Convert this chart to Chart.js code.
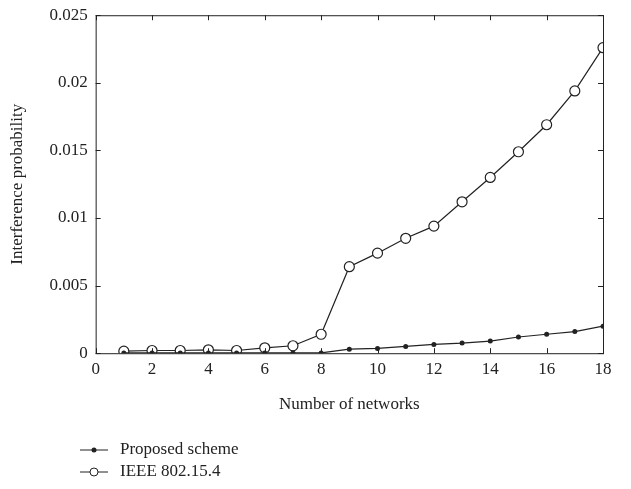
<!DOCTYPE html>
<html>
<head>
<meta charset="utf-8">
<script src="https://cdn.jsdelivr.net/npm/chart.js@4.4.1/dist/chart.umd.min.js"></script>
<style>
  html, body { margin: 0; padding: 0; background: #fff; }
  #wrap { width: 631px; height: 489px; position: relative; }
</style>
</head>
<body>
<div id="wrap"><canvas id="chart" width="631" height="489"></canvas></div>
<script>
// data
const networks = [1, 2, 3, 4, 5, 6, 7, 8, 9, 10, 11, 12, 13, 14, 15, 16, 17, 18];
const proposed = [0.00002, 0.00002, 0.00002, 0.00002, 0.00002, 0.00002, 0.00002, 0.00002,
                  0.0003, 0.00035, 0.0005, 0.00065, 0.00075, 0.0009, 0.0012, 0.0014, 0.0016, 0.002];
const ieee = [0.00015, 0.0002, 0.0002, 0.00025, 0.0002, 0.0004, 0.00055, 0.0014,
              0.0064, 0.0074, 0.0085, 0.0094, 0.0112, 0.013, 0.0149, 0.0169, 0.0194, 0.0226];
const seriesNames = ['Proposed scheme', 'IEEE 802.15.4'];
const xTicks = [0, 2, 4, 6, 8, 10, 12, 14, 16, 18];
const yTicks = [0, 0.005, 0.01, 0.015, 0.02, 0.025];

const FONT = '"Liberation Serif", "DejaVu Serif", serif';
const FS = 17;
const INK = '#222';

// box around the plot with inward ticks on all four sides
const frame = {
  id: 'frame',
  afterDraw(chart) {
    const { ctx, chartArea: a, scales } = chart;
    ctx.save();
    ctx.strokeStyle = INK;
    ctx.lineWidth = 1;
    ctx.strokeRect(a.left + 0.5, a.top + 0.5, a.right - a.left, a.bottom - a.top);
    const t = 5;
    ctx.beginPath();
    xTicks.forEach(v => {
      const x = Math.round(scales.x.getPixelForValue(v)) + 0.5;
      ctx.moveTo(x, a.bottom); ctx.lineTo(x, a.bottom - t);
      ctx.moveTo(x, a.top); ctx.lineTo(x, a.top + t);
    });
    yTicks.forEach(v => {
      const y = Math.round(scales.y.getPixelForValue(v)) + 0.5;
      ctx.moveTo(a.left, y); ctx.lineTo(a.left + t, y);
      ctx.moveTo(a.right, y); ctx.lineTo(a.right - t, y);
    });
    ctx.stroke();

    // legend, stacked under the axis title
    ctx.font = FS + 'px ' + FONT;
    ctx.textBaseline = 'middle';
    chart.data.datasets.forEach((ds, i) => {
      const y = 450 + i * 22;
      ctx.beginPath();
      ctx.moveTo(80, y); ctx.lineTo(108, y);
      ctx.stroke();
      ctx.beginPath();
      if (ds.pointBackgroundColor === '#fff') {
        ctx.fillStyle = '#fff';
        ctx.arc(94, y, 4, 0, Math.PI * 2);
        ctx.fill(); ctx.stroke();
      } else {
        ctx.fillStyle = INK;
        ctx.arc(94, y, 2.5, 0, Math.PI * 2);
        ctx.fill();
      }
      ctx.fillStyle = INK;
      ctx.fillText(ds.label, 120, y);
    });
    ctx.restore();
  }
};

new Chart(document.getElementById('chart'), {
  type: 'line',
  data: {
    datasets: [
      {
        label: seriesNames[0],
        data: networks.map((n, i) => ({ x: n, y: proposed[i] })),
        borderColor: INK, borderWidth: 1.2,
        pointRadius: 2.5, pointBackgroundColor: INK, pointBorderColor: INK, pointBorderWidth: 0,
        tension: 0
      },
      {
        label: seriesNames[1],
        data: networks.map((n, i) => ({ x: n, y: ieee[i] })),
        borderColor: INK, borderWidth: 1.2,
        pointRadius: 5, pointBackgroundColor: '#fff', pointBorderColor: INK, pointBorderWidth: 1.2,
        tension: 0
      }
    ]
  },
  options: {
    responsive: false,
    animation: false,
    layout: { padding: { top: 11, right: 28, bottom: 70, left: 3 } },
    plugins: { legend: { display: false }, tooltip: { enabled: false } },
    scales: {
      x: {
        type: 'linear', min: 0, max: 18,
        grid: { display: false, drawTicks: false }, border: { display: false },
        afterBuildTicks: s => { s.ticks = xTicks.map(v => ({ value: v })); },
        ticks: { color: INK, font: { family: FONT, size: FS }, padding: 6, maxRotation: 0 },
        title: { display: true, text: 'Number of networks', color: INK,
                 font: { family: FONT, size: FS }, padding: { top: 9 } }
      },
      y: {
        min: 0, max: 0.025,
        grid: { display: false, drawTicks: false }, border: { display: false },
        afterBuildTicks: s => { s.ticks = yTicks.map(v => ({ value: v })); },
        ticks: { color: INK, font: { family: FONT, size: FS, lineHeight: 0.85 }, padding: 8,
                 callback: v => v === 0 ? '0' : String(+v.toFixed(3)) },
        title: { display: true, text: 'Interference probability', color: INK,
                 font: { family: FONT, size: FS }, padding: { bottom: 14 } }
      }
    }
  },
  plugins: [frame]
});
</script>
</body>
</html>
